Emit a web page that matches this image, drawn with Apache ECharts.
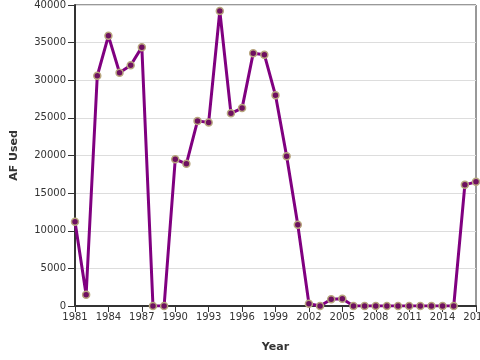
<!DOCTYPE html>
<html>
<head>
<meta charset="utf-8">
<script src="https://cdn.jsdelivr.net/npm/echarts@6/dist/echarts.min.js"></script>
<style>html,body{margin:0;padding:0;background:#fff}#c{width:480px;height:360px}</style>
</head>
<body>
<div id="c"></div>
<script>
var years = [];
for (var y = 1981; y <= 2017; y++) years.push(String(y));
var afUsed = [11200, 1500, 30600, 35900, 31000, 32000, 34400, 0, 0, 19500, 18900, 24600, 24400, 39200, 25600, 26300, 33600, 33400, 28000, 19900, 10800, 300, 0, 900, 950, 0, 0, 0, 0, 0, 0, 0, 0, 0, 0, 16100, 16500];
var yTicks = [0, 5000, 10000, 15000, 20000, 25000, 30000, 35000, 40000];

var chart = echarts.init(document.getElementById('c'), null, {renderer: 'canvas'});
var font = 'DejaVu Sans';
chart.setOption({
  animation: false,
  grid: {left: 75, right: 4, top: 5, bottom: 54, show: true, borderColor: '#333', borderWidth: 1, containLabel: false, outerBoundsMode: 'none'},
  xAxis: {
    type: 'category', data: years, boundaryGap: false,
    name: 'Year', nameLocation: 'middle', nameGap: 36,
    nameTextStyle: {fontFamily: font, fontWeight: 'bold', fontSize: 11, color: '#333'},
    axisLine: {lineStyle: {color: '#333', width: 2}},
    axisTick: {interval: 2, length: 6, lineStyle: {color: '#333', width: 1}},
    axisLabel: {interval: 2, fontFamily: font, fontSize: 10, color: '#333', margin: 6},
    splitLine: {show: false}
  },
  yAxis: {
    type: 'value', min: 0, max: 40000, interval: 5000,
    name: 'AF Used', nameLocation: 'middle', nameGap: 55,
    nameTextStyle: {fontFamily: font, fontWeight: 'bold', fontSize: 11, color: '#333'},
    axisLine: {show: true, lineStyle: {color: '#333', width: 2}},
    axisTick: {show: true, length: 7, lineStyle: {color: '#333'}},
    axisLabel: {fontFamily: font, fontSize: 10, color: '#333', margin: 9, formatter: function (v) { return String(v); }},
    splitLine: {lineStyle: {color: '#ddd', width: 1}}
  },
  series: [{
    type: 'line', data: afUsed,
    symbol: 'circle', symbolSize: 7, showAllSymbol: true,
    lineStyle: {color: '#800080', width: 3},
    itemStyle: {color: '#6e1060', borderColor: '#b8a67e', borderWidth: 1.5}
  }]
});
</script>
</body>
</html>
